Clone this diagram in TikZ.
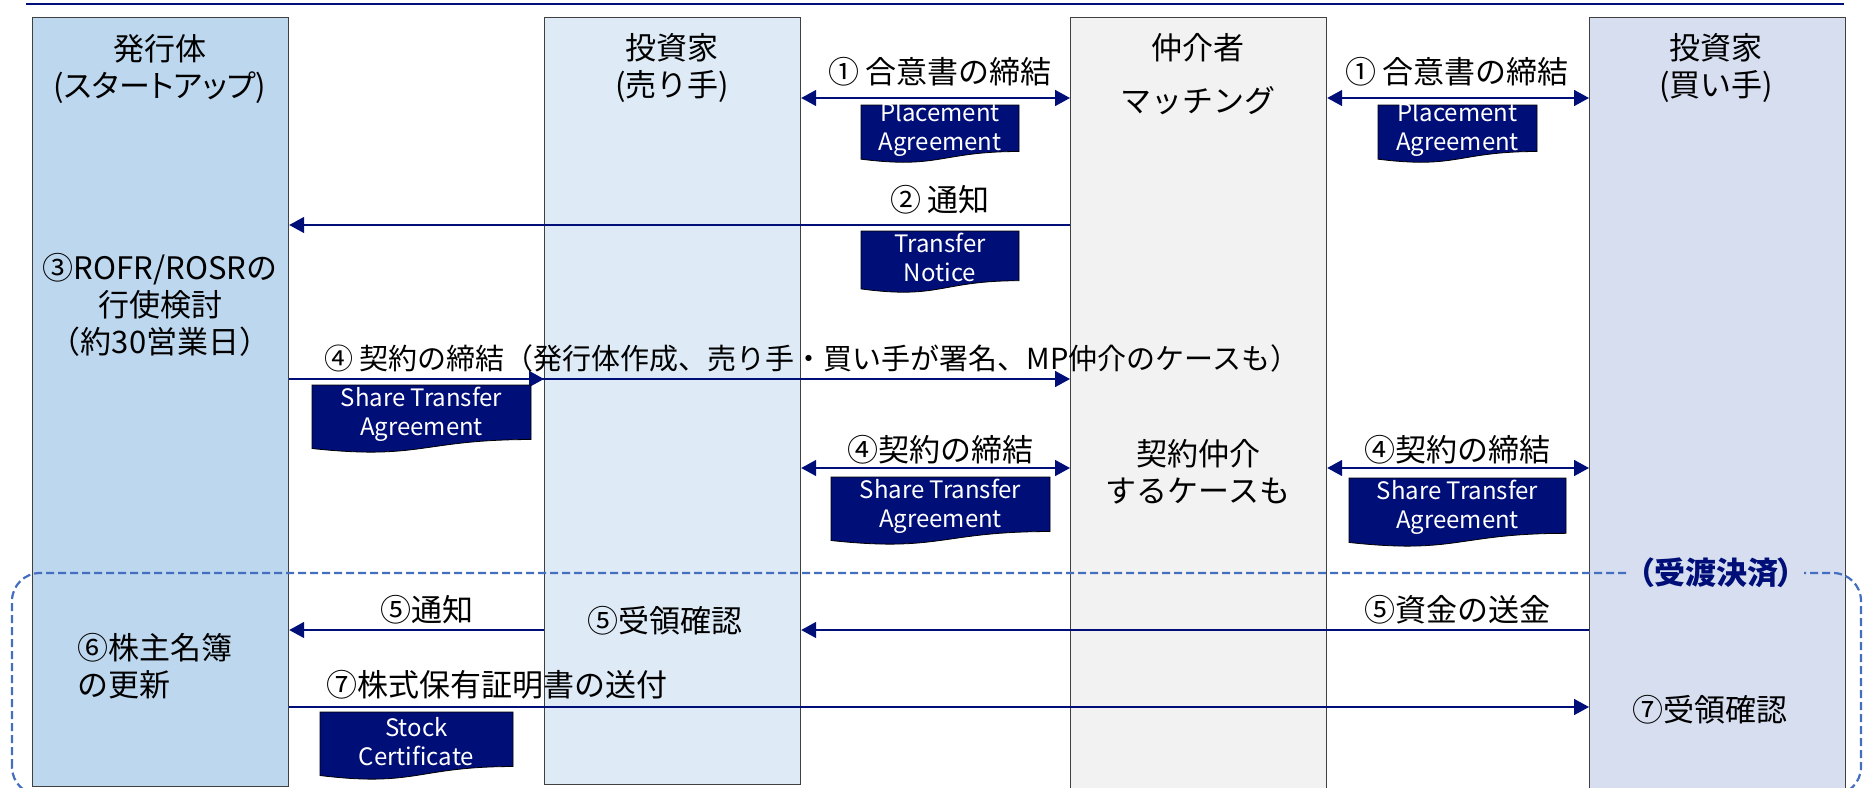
\documentclass[tikz,border=0pt]{standalone}
\usepackage{fontspec}
\setmainfont{Noto Sans CJK JP}
\usetikzlibrary{arrows.meta}

\definecolor{navy}{RGB}{0,14,120}
\definecolor{issuerblue}{RGB}{189,215,238}
\definecolor{sellerblue}{RGB}{222,235,247}
\definecolor{brokergray}{RGB}{242,242,242}
\definecolor{buyerblue}{RGB}{214,222,240}
\definecolor{lanegray}{RGB}{64,64,64}
\definecolor{settleblue}{RGB}{68,110,190}

% document sheet: name, left, top, width, height, text
\newcommand{\docnote}[6]{%
	\filldraw[docfill] (#2,#3) -- ({#2+#4},#3) -- ({#2+#4},{#3+0.802*#5})
		.. controls ({#2+0.5*#4},{#3+0.802*#5}) and ({#2+0.5*#4},{#3+1.107*#5}) .. (#2,{#3+0.934*#5}) -- cycle;
	\node[doctext] (#1) at ({#2+0.5*#4},{#3+0.43*#5}) {#6};
}

\begin{document}
\begin{tikzpicture}
		% pixel-like units, y runs downwards
		[x=1pt, y=-1pt,
		lane/.style={draw=lanegray, line width=1.2pt, anchor=north west, inner sep=0pt, minimum width=256pt},
		lbl/.style={font=\fontsize{31}{37}\selectfont, align=center, inner sep=0pt},
		flow/.style={draw=navy, line width=1.6pt, -{Triangle[length=15pt,width=16pt]}},
		twoway/.style={flow, {Triangle[length=15pt,width=16pt]}-{Triangle[length=15pt,width=16pt]}},
		docfill/.style={fill=navy, draw=black, line width=0.8pt},
		doctext/.style={text=white, font=\fontsize{24}{29}\selectfont, align=center, inner sep=0pt},
		settle/.style={draw=settleblue, line width=2.2pt, dash pattern=on 8pt off 4pt, rounded corners=28pt}]
	
		\useasboundingbox (0,0) rectangle (1863,787);
		\draw[navy, line width=2.5pt] (26,4) -- (1844,4);
	
		% The four parties
		\node[lane, fill=issuerblue, minimum height=769pt] (iss) at (32,17) {};
		\node[lane, fill=sellerblue, minimum height=767pt] (sel) at (544,17) {};
		\node[lane, fill=brokergray, minimum height=790pt] (brk) at (1070,17) {};
		\node[lane, fill=buyerblue, minimum height=790pt] (buy) at (1589,17) {};
		
		\node[lbl] (iss-name) at (160,69) {発行体\\{\addfontfeature{RawFeature=+palt}(スタートアップ)}};
		\node[lbl] (iss-rofr) at (160,305) {③ROFR/ROSRの\\行使検討\\（約30営業日）};
		\node[lbl, align=left, anchor=west] (iss-reg) at (77,666) {⑥株主名簿\\の更新};
		\node[lbl] (sel-name) at (672,68) {投資家\\(売り手)};
		\node[lbl] (sel-recv) at (665,621) {⑤受領確認};
		\node[lbl] (brk-name) at (1198,48) {仲介者};
		\node[lbl] (brk-match) at (1198,101) {マッチング};
		\node[lbl] (brk-case) at (1198,472) {契約仲介\\するケースも};
		\node[lbl] (buy-name) at (1716,68) {投資家\\(買い手)};
		\node[lbl] (buy-recv) at (1710,710) {⑦受領確認};
		
		% Settlement frame, open at the bottom
		\draw[settle] (12,795) rectangle (1861,573);
		\node[lbl, font={\fontsize{31}{37}\selectfont\bfseries\addfontfeature{RawFeature=+palt}}, text=navy, fill=buyerblue, inner xsep=10pt, inner ysep=2pt] (settle-t) at (1716,573) {（受渡決済）};
		
		% Rows of the messages
		\coordinate (r1) at (0,98);
		\coordinate (r2) at (0,225);
		\coordinate (r4) at (0,379);
		\coordinate (r4b) at (0,468);
		\coordinate (r5) at (0,630);
		\coordinate (r7) at (0,707);
		
		% Step 1 and 2
		\draw[twoway] (sel.east |- r1) -- (brk.west |- r1);
		\draw[twoway] (brk.east |- r1) -- (buy.west |- r1);
		\draw[flow] (brk.west |- r2) -- (iss.east |- r2);
		\node[lbl] (l1a) at (940,72) {① 合意書の締結};
		\node[lbl] (l1b) at (1457,72) {① 合意書の締結};
		\node[lbl] (l2) at (940,200) {② 通知};
		\docnote{pa1}{861}{105}{158}{58}{Placement\\Agreement}
		\docnote{pa2}{1378}{105}{159}{58}{Placement\\Agreement}
		\docnote{tn}{861}{231}{158}{62}{Transfer\\Notice}
		
		% Step 4: the contract
		\draw[flow] (iss.east |- r4) -- (sel.west |- r4);
		\draw[flow] (iss.east |- r4) -- (brk.west |- r4);
		\draw[twoway] (sel.east |- r4b) -- (brk.west |- r4b);
		\draw[twoway] (brk.east |- r4b) -- (buy.west |- r4b);
		\node[lbl, anchor=west, font=\fontsize{29}{35}\selectfont] (l4) at (324,358) {④ 契約の締結（発行体作成、売り手・買い手が署名、MP仲介のケースも）};
		\node[lbl] (l4a) at (940,450) {④契約の締結};
		\node[lbl] (l4b) at (1457,450) {④契約の締結};
		\docnote{sta1}{312}{385}{219}{68}{Share Transfer\\Agreement}
		\docnote{sta2}{831}{477}{219}{68}{Share Transfer\\Agreement}
		\docnote{sta3}{1349}{478}{217}{69}{Share Transfer\\Agreement}
		
		% Step 5 to 7: settlement
		\draw[flow] (sel.west |- r5) -- (iss.east |- r5);
		\draw[flow] (buy.west |- r5) -- (sel.east |- r5);
		\draw[flow] (iss.east |- r7) -- (buy.west |- r7);
		\node[lbl] (l5a) at (427,610) {⑤通知};
		\node[lbl] (l5b) at (1457,610) {⑤資金の送金};
		\node[lbl, anchor=west] (l7) at (326,685) {⑦株式保有証明書の送付};
		\docnote{sc}{320}{712}{193}{68}{Stock\\Certificate}
	\end{tikzpicture}
\end{document}
